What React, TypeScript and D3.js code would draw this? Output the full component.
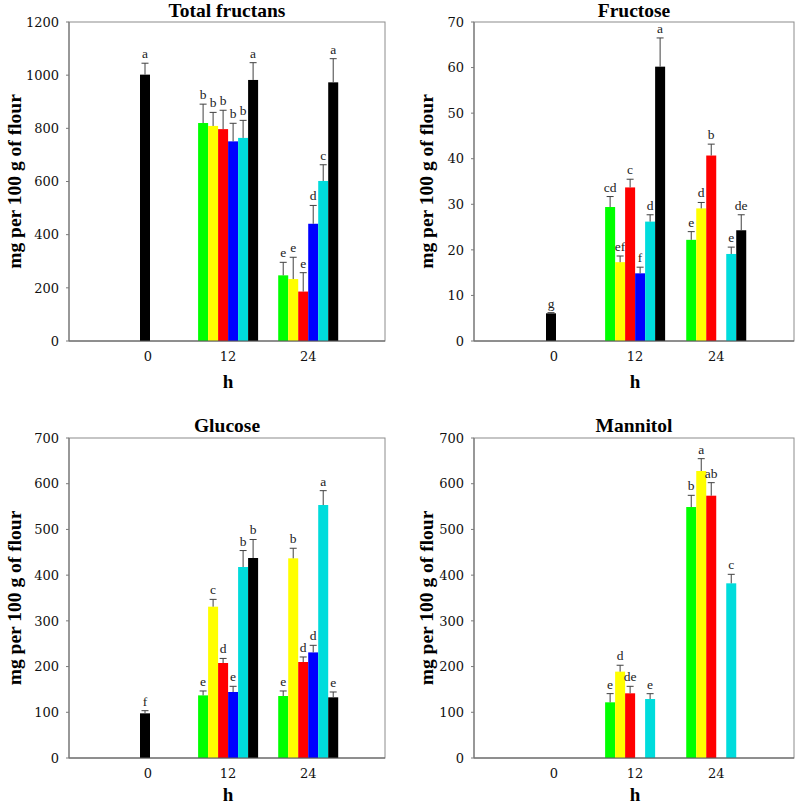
import React from "react";
import * as d3 from "d3";

const hours = [0, 12, 24];
const hourLabels = ["0", "12", "24"];
const seriesNames = ["S1", "S2", "S3", "S4", "S5", "S6"];
const seriesColors = ["#00ff00", "#ffff00", "#ff0000", "#0000ff", "#00dcdc", "#000000"];

type V = number | null;
type L = string | null;

// Total fructans
const fructansValues: V[][] = [
  [null, 820, 247],
  [null, 809, 233],
  [null, 797, 186],
  [null, 751, 441],
  [null, 764, 602],
  [1002, 982, 973],
];
const fructansErrors: V[][] = [
  [null, 71, 49],
  [null, 51, 82],
  [null, 71, 71],
  [null, 68, 69],
  [null, 66, 61],
  [43, 65, 89],
];
const fructansLetters: L[][] = [
  [null, "b", "e"],
  [null, "b", "e"],
  [null, "b", "e"],
  [null, "b", "d"],
  [null, "b", "c"],
  ["a", "a", "a"],
];
const fructansTicks = [0, 200, 400, 600, 800, 1000, 1200];

// Fructose
const fructoseValues: V[][] = [
  [null, 29.4, 22.2],
  [null, 17.3, 29.1],
  [null, 33.7, 40.7],
  [null, 14.85, null],
  [null, 26.2, 19.1],
  [6.07, 60.2, 24.3],
];
const fructoseErrors: V[][] = [
  [null, 2.3, 1.8],
  [null, 1.35, 1.3],
  [null, 1.8, 2.5],
  [null, 1.35, null],
  [null, 1.5, 1.5],
  [0.15, 6.3, 3.4],
];
const fructoseLetters: L[][] = [
  [null, "cd", "e"],
  [null, "ef", "d"],
  [null, "c", "b"],
  [null, "f", null],
  [null, "d", "e"],
  ["g", "a", "de"],
];
const fructoseTicks = [0, 10, 20, 30, 40, 50, 60, 70];

// Glucose
const glucoseValues: V[][] = [
  [null, 137, 135.6],
  [null, 331, 436.8],
  [null, 207.8, 210],
  [null, 144.4, 231],
  [null, 417.8, 553.4],
  [97.7, 437.5, 132.7],
];
const glucoseErrors: V[][] = [
  [null, 9.6, 11],
  [null, 16, 22],
  [null, 10, 11],
  [null, 12.4, 15.5],
  [null, 36, 31.4],
  [5.8, 40.5, 11.7],
];
const glucoseLetters: L[][] = [
  [null, "e", "e"],
  [null, "c", "b"],
  [null, "d", "d"],
  [null, "e", "d"],
  [null, "b", "a"],
  ["f", "b", "e"],
];
const sugarTicks = [0, 100, 200, 300, 400, 500, 600, 700];

// Mannitol
const mannitolValues: V[][] = [
  [null, 121.8, 549],
  [null, 188.9, 627.8],
  [null, 141.5, 573.8],
  [null, null, null],
  [null, 129, 382.1],
  [null, null, null],
];
const mannitolErrors: V[][] = [
  [null, 19, 25.6],
  [null, 14, 27],
  [null, 15.3, 28.5],
  [null, null, null],
  [null, 11.7, 19.7],
  [null, null, null],
];
const mannitolLetters: L[][] = [
  [null, "e", "b"],
  [null, "d", "a"],
  [null, "de", "ab"],
  [null, null, null],
  [null, "e", "c"],
  [null, null, null],
];

const yLabel = "mg per 100 g of flour";
const xLabel = "h";

type PanelProps = {
  title: string;
  left: number;
  top: number;
  width: number;
  height: number;
  ticks: number[];
  values: V[][];
  errors: V[][];
  letters: L[][];
  titleDy: number;
  hDy: number;
  yLabelDx: number;
};

const titleFont = "'Liberation Serif', 'Times New Roman', serif";
const tickFont = "'DejaVu Serif', serif";
const BAR_W = 10;

function Panel({
  title,
  left,
  top,
  width,
  height,
  ticks,
  values,
  errors,
  letters,
  titleDy,
  hDy,
  yLabelDx,
}: PanelProps) {
  const yMax = ticks[ticks.length - 1];
  const y = d3.scaleLinear().domain([0, yMax]).range([height, 0]);
  const x = d3.scaleLinear().domain([0, 24]).range([width * 0.25, width * 0.757]);
  const slot = d3
    .scaleBand<number>()
    .domain(d3.range(seriesNames.length))
    .range([-BAR_W * 3, BAR_W * 3])
    .padding(0);

  const bars: React.ReactNode[] = [];
  hours.forEach((h, hi) => {
    const nonNull = values.filter((s) => s[hi] != null).length;
    values.forEach((s, si) => {
      const v = s[hi];
      if (v == null) return;
      const cx = nonNull === 1 ? x(h) - 3 : x(h) + (slot(si) as number) + BAR_W / 2;
      const bx = cx - BAR_W / 2;
      const e = errors[si][hi] ?? 0;
      const yTop = y(v + e);
      const letter = letters[si][hi];
      bars.push(
        <g key={`${si}-${hi}`}>
          <rect x={bx} y={y(v)} width={BAR_W} height={height - y(v)} fill={seriesColors[si]} />
          {e > 0 && (
            <g stroke="#404040" strokeWidth={1}>
              <line x1={cx} x2={cx} y1={y(v)} y2={yTop} />
              <line x1={cx - 3.5} x2={cx + 3.5} y1={yTop} y2={yTop} />
            </g>
          )}
          {letter && (
            <text
              x={cx}
              y={yTop - 5}
              textAnchor="middle"
              fontFamily={titleFont}
              fontSize={13.5}
              fill="#222"
            >
              {letter}
            </text>
          )}
        </g>
      );
    });
  });

  return (
    <g transform={`translate(${left},${top})`}>
      <text
        x={width / 2}
        y={titleDy}
        textAnchor="middle"
        fontFamily={titleFont}
        fontWeight="bold"
        fontSize={19.5}
        fill="#000"
      >
        {title}
      </text>
      <rect x={0} y={0} width={width} height={height} fill="none" stroke="#8c8c8c" strokeWidth={1} />
      {bars}
      <line x1={0} x2={width} y1={height} y2={height} stroke="#595959" strokeWidth={1.2} />
      <line x1={0} x2={0} y1={0} y2={height} stroke="#7a7a7a" strokeWidth={1.2} />
      {ticks.map((t) => (
        <g key={t} transform={`translate(0,${y(t)})`}>
          <line x1={-3} x2={0} stroke="#7a7a7a" strokeWidth={1} />
          <text
            x={-10}
            dy="0.36em"
            textAnchor="end"
            fontFamily={tickFont}
            fontSize={13}
            fill="#111"
          >
            {t}
          </text>
        </g>
      ))}
      {hours.map((h, i) => (
        <text
          key={h}
          x={x(h)}
          y={height + 20}
          textAnchor="middle"
          fontFamily={tickFont}
          fontSize={13}
          fill="#111"
        >
          {hourLabels[i]}
        </text>
      ))}
      <text
        x={x(12)}
        y={height + hDy}
        textAnchor="middle"
        fontFamily={titleFont}
        fontWeight="bold"
        fontSize={19}
        fill="#000"
      >
        {xLabel}
      </text>
      <text
        transform={`translate(${yLabelDx},${height / 2}) rotate(-90)`}
        textAnchor="middle"
        fontFamily={titleFont}
        fontWeight="bold"
        fontSize={19.5}
        fill="#000"
      >
        {yLabel}
      </text>
    </g>
  );
}

export default function App() {
  return (
    <svg
      width={796}
      height={805}
      style={{ position: "absolute", left: 0, top: 0, display: "block", background: "#fff" }}
    >
      <Panel
        title="Total fructans"
        left={69}
        top={22}
        width={316}
        height={319}
        ticks={fructansTicks}
        values={fructansValues}
        errors={fructansErrors}
        letters={fructansLetters}
        titleDy={-5}
        hDy={47}
        yLabelDx={-48}
      />
      <Panel
        title="Fructose"
        left={474}
        top={22}
        width={320}
        height={319}
        ticks={fructoseTicks}
        values={fructoseValues}
        errors={fructoseErrors}
        letters={fructoseLetters}
        titleDy={-5}
        hDy={47}
        yLabelDx={-41}
      />
      <Panel
        title="Glucose"
        left={69}
        top={438}
        width={316}
        height={320}
        ticks={sugarTicks}
        values={glucoseValues}
        errors={glucoseErrors}
        letters={glucoseLetters}
        titleDy={-6}
        hDy={43}
        yLabelDx={-48}
      />
      <Panel
        title="Mannitol"
        left={474}
        top={438}
        width={320}
        height={320}
        ticks={sugarTicks}
        values={mannitolValues}
        errors={mannitolErrors}
        letters={mannitolLetters}
        titleDy={-6}
        hDy={43}
        yLabelDx={-41}
      />
    </svg>
  );
}
